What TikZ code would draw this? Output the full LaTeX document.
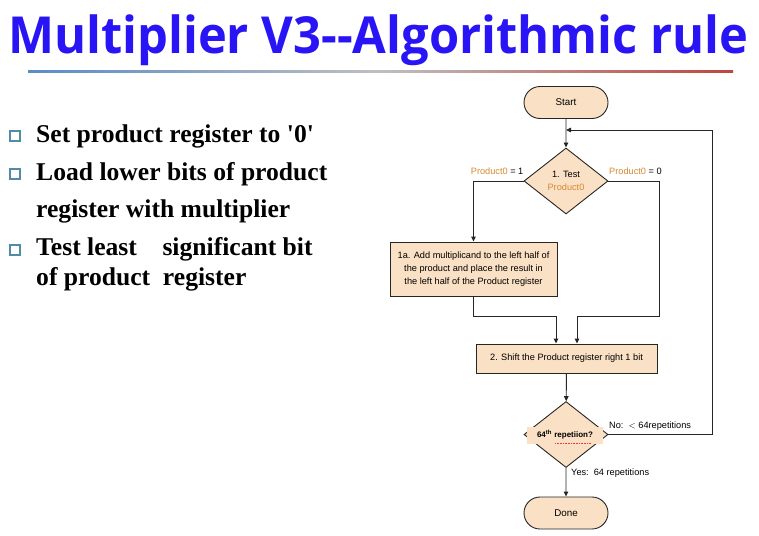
\documentclass[tikz,border=0pt]{standalone}
\usepackage{fontspec}
\setmainfont{Liberation Serif}
\setsansfont{Liberation Sans}
\newfontfamily\titlefont{Open Sans}
\usetikzlibrary{arrows.meta,shapes.geometric,shapes.misc}
\definecolor{titleblue}{RGB}{40,20,245}
\definecolor{boxfill}{RGB}{250,224,196}
\definecolor{prodorange}{RGB}{214,140,50}
\definecolor{bulletcol}{RGB}{80,140,165}
\definecolor{lineblue}{RGB}{90,140,200}
\definecolor{linered}{RGB}{190,70,60}
\begin{document}
\begin{tikzpicture}[x=1pt,y=-1pt,
  flow/.style={draw=black!85, line width=0.9pt, fill=boxfill, font=\sffamily\fontsize{9.2}{13}\selectfont},
  term/.style={flow, rounded rectangle, minimum width=84pt, minimum height=32pt, inner sep=0pt, font=\sffamily\fontsize{9.8}{12}\selectfont},
  decision/.style={flow, diamond, minimum width=84pt, minimum height=66pt, inner sep=0pt, align=center},
  proc/.style={flow, rectangle, align=center, inner sep=0pt},
  conn/.style={draw=black!85, line width=0.9pt, -{Triangle[length=5pt,width=4.5pt]}},
  lbl/.style={font=\sffamily\fontsize{9.2}{11}\selectfont, inner sep=0pt},
  btext/.style={font=\bfseries\fontsize{25.6}{30}\selectfont, anchor=base west, inner sep=0pt},
  bbox/.style={draw=bulletcol, line width=2.4pt, minimum size=10pt, inner sep=0pt}
]
\useasboundingbox (0,0) rectangle (759,535);
\fill[white] (0,0) rectangle (759,535);

% title
\node[anchor=base west, inner sep=0pt, text=titleblue] (title) at (8,53)
  {\resizebox*{740pt}{51pt}{\titlefont\bfseries Multiplier V3--Algorithmic rule}};
\shade[left color=lineblue, right color=linered, middle color=black!25] (28,70) rectangle (733,72);

% bullets
\node[bbox] (b1) at (15,136) {};
\node[bbox] (b2) at (15,174) {};
\node[bbox] (b3) at (15,250) {};
\node[btext] (t1) at (36,142) {Set product register to \textquotesingle 0\textquotesingle};
\node[btext] (t2) at (36,180) {Load lower bits of product};
\node[btext] (t3) at (36,217) {register with multiplier};
\node[btext] (t4) at (36,255) {Test least\ \ \ \ significant bit};
\node[btext] (t5) at (36,285) {of product\ \ register};

% flowchart
\node[term] (start) at (566,102.5) {Start};
\node[decision] (test1) at (566,181) {1. Test\\\textcolor{prodorange}{Product0}};
\node[proc, minimum width=167pt, minimum height=54pt] (add) at (473.5,269)
  {1a. Add multiplicand to the left half of\\the product and place the result in\\the left half of the Product register};
\node[proc, minimum width=181pt, minimum height=29pt] (shift) at (566.5,358.5)
  {2. Shift the Product register right 1 bit};
\node[decision] (test2) at (566,434.5) {};
\node[fill=boxfill, inner sep=0pt, minimum width=76pt, minimum height=17pt,
  font=\sffamily\bfseries\fontsize{8}{10}\selectfont] (t2lbl) at (565,435)
  {64\textsuperscript{th} repetiion?};
\draw[red!80, densely dotted, line width=0.6pt] (555,443) -- (591,443);
\node[term] (done) at (566,513) {Done};

\coordinate (r1) at (659,316);
\coordinate (loopr) at (712,434.5);
\coordinate (loopin) at (566,130);

\draw[conn] (start) -- (test1);
\draw[conn] (test1.west) -| (add.north);
\draw[conn] (test1.east) -| (r1) -| ([xshift=10.5pt]shift.north);
\draw[conn] (add.south) |- (r1 -| 473.5,316) -| ([xshift=-10.5pt]shift.north);
\draw[conn] (shift) -- (test2);
\draw[conn] (test2) -- (done);
\draw[conn] (test2.east) -- (loopr) |- (loopin);

% labels
\node[lbl, anchor=east] (l1) at (523.5,171) {\textcolor{prodorange}{Product0} = 1};
\node[lbl, anchor=west] (l0) at (609,171) {\textcolor{prodorange}{Product0} = 0};
\node[lbl, anchor=west] (lno) at (609,426) {No:\ \ $<$\ 64repetitions};
\node[lbl, anchor=west] (lyes) at (571,473) {Yes:\ \ 64 repetitions};
\end{tikzpicture}
\end{document}
